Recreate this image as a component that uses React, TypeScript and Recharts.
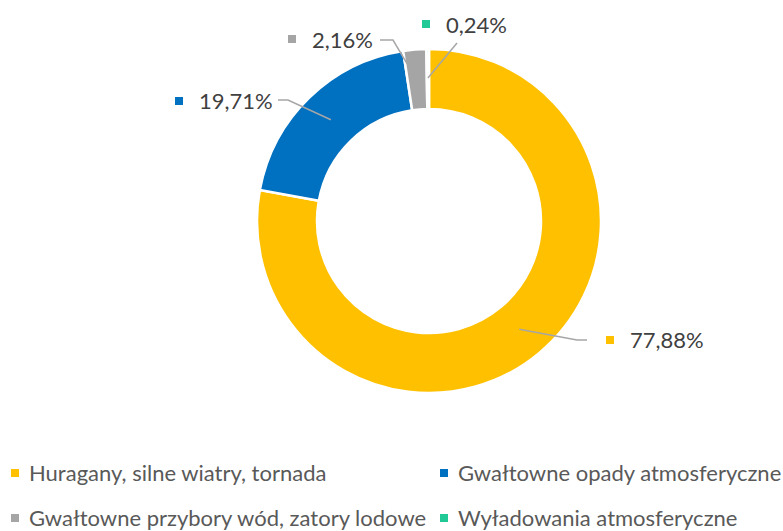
import { PieChart, Pie, Cell, Legend } from "recharts";

const categories = [
  "Huragany, silne wiatry, tornada",
  "Gwałtowne opady atmosferyczne",
  "Gwałtowne przybory wód, zatory lodowe",
  "Wyładowania atmosferyczne",
];
const shares = [77.88, 19.71, 2.16, 0.24];
const colors = ["#FFC000", "#0070C0", "#A5A5A5", "#21C997"];

const data = categories.map((name, i) => ({ name, value: shares[i], color: colors[i] }));

const FONT = "Lato, 'Noto Sans', sans-serif";
const RAD = Math.PI / 180;

// leader line + label placement, relative to the pie centre
const labelLayout = [
  { r: 141, da: 0, elbow: [148, 119], end: [158, 119], marker: [177, 119], text: [201, 127] },
  { r: 141, da: 0, elbow: [-141, -121], end: [-151, -121], marker: [-254, -120], text: [-230, -112] },
  { r: 159, da: 3.2, elbow: [-36, -181], end: [-49, -181], marker: [-141, -182], text: [-117, -173] },
  { r: 143, da: 0, elbow: [28, -178], end: [28, -178], marker: [-7, -197], text: [17, -188] },
];

const fmt = (v: number) => v.toFixed(2).replace(".", ",") + "%";

const renderLabel = (props: any) => {
  const { cx, cy, midAngle, index } = props;
  const l = labelLayout[index];
  const a = -(midAngle + l.da) * RAD;
  const sx = cx + l.r * Math.cos(a);
  const sy = cy + l.r * Math.sin(a);
  return (
    <g key={`lbl-${index}`}>
      <polyline
        points={`${sx},${sy} ${cx + l.elbow[0]},${cy + l.elbow[1]} ${cx + l.end[0]},${cy + l.end[1]}`}
        fill="none"
        stroke="#A6A6A6"
        strokeWidth={1.5}
      />
      <rect x={cx + l.marker[0]} y={cy + l.marker[1] - 4} width={8} height={8} fill={colors[index]} />
      <text x={cx + l.text[0]} y={cy + l.text[1]} fill="#404040" fontSize={22} fontFamily={FONT}>
        {fmt(shares[index])}
      </text>
    </g>
  );
};

const renderLegend = () => (
  <div
    style={{
      display: "grid",
      gridTemplateColumns: "429px 354px",
      rowGap: 19,
      paddingLeft: 11,
      fontFamily: FONT,
      fontSize: 22,
      lineHeight: "26px",
      color: "#595959",
      whiteSpace: "nowrap",
    }}
  >
    {data.map((d) => (
      <div key={d.name} style={{ display: "flex", alignItems: "center" }}>
        <span style={{ width: 8, height: 8, background: d.color, marginRight: 10, flexShrink: 0 }} />
        <span>{d.name}</span>
      </div>
    ))}
  </div>
);

export default function App() {
  return (
    <div style={{ position: "absolute", left: 0, top: 0, background: "#fff" }}>
      <PieChart width={783} height={531} margin={{ top: 0, right: 0, bottom: 0, left: 0 }}>
        <Pie
          data={data}
          dataKey="value"
          nameKey="name"
          cx={429}
          cy={221}
          innerRadius={112}
          outerRadius={172}
          startAngle={90}
          endAngle={-270}
          stroke="#fff"
          strokeWidth={2.5}
          label={renderLabel}
          labelLine={false}
          isAnimationActive={false}
        >
          {data.map((d) => (
            <Cell key={d.name} fill={d.color} />
          ))}
        </Pie>
        <Legend content={renderLegend} wrapperStyle={{ left: 0, top: 460, width: 783 }} />
      </PieChart>
    </div>
  );
}
